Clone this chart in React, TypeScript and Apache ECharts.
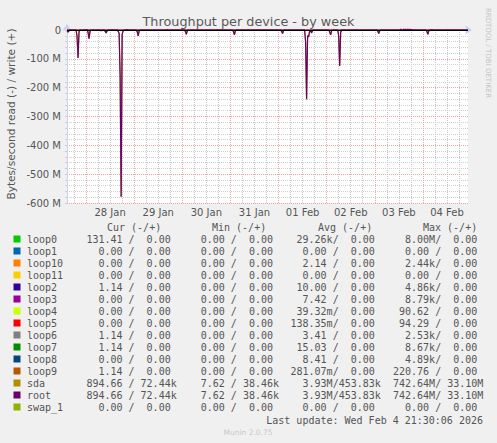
import React, { useEffect, useRef } from 'react';
import * as echarts from 'echarts';

// 401 half-hour slots; slot 0 = Jan 27 14:30
const SLOT_COUNT = 401;
const NOON_OFFSET = 43; // slot of 28 Jan 12:00
const MIDNIGHT_OFFSET = 19; // slot of 28 Jan 00:00
const DAY_LABELS = ['28 Jan', '29 Jan', '30 Jan', '31 Jan', '01 Feb', '02 Feb', '03 Feb', '04 Feb'];

// read throughput (MB/s, plotted negative) at given slots
const READ_SPIKES: [number, number][] = [
  [0, -4], [1, -7], [2, -3], [5, -2], [10, -20], [11, -97], [12, -6], [15, -2],
  [21, -8], [22, -30], [23, -4], [28, -2], [34, -3], [38, -4], [39, -10], [40, -3],
  [46, -2], [51, -4], [52, -12], [53, -160], [54, -578], [55, -15], [56, -3], [62, -2],
  [70, -6], [71, -20], [72, -3], [85, -2], [100, -2], [118, -4], [119, -15], [120, -2],
  [166, -5], [167, -17], [168, -2], [214, -4], [215, -12], [216, -2],
  [238, -40], [239, -240], [240, -20], [241, -24], [242, -5], [243, -3], [244, -10], [245, -2],
  [262, -6], [263, -17], [264, -2], [271, -20], [272, -125], [273, -8],
  [310, -4], [311, -12], [312, -2], [359, -5], [360, -15], [361, -2],
];
// write throughput (MB/s, positive)
const WRITE_BUMPS: [number, number][] = [
  [3, 1], [20, 1.5], [45, 1], [60, 1.5], [100, 2], [150, 1], [180, 1],
  [333, 2.5], [336, 3], [338, 3], [340, 2.5], [342, 3], [344, 2], [364, 1.5], [380, 1],
];

const NAMES = ['loop0', 'loop1', 'loop10', 'loop11', 'loop2', 'loop3', 'loop4', 'loop5', 'loop6', 'loop7', 'loop8', 'loop9', 'sda', 'root', 'swap_1'];
const COLORS = ['#00CC00', '#0066B3', '#FF8000', '#FFCC00', '#330099', '#990099', '#CCFF00', '#FF0000', '#808080', '#008F00', '#00487D', '#B35A00', '#B38F00', '#6B006B', '#8FB300'];
const CUR_R = ['131.41', '0.00', '0.00', '0.00', '1.14', '0.00', '0.00', '0.00', '1.14', '1.14', '0.00', '1.14', '894.66', '894.66', '0.00'];
const CUR_W = ['0.00', '0.00', '0.00', '0.00', '0.00', '0.00', '0.00', '0.00', '0.00', '0.00', '0.00', '0.00', '72.44k', '72.44k', '0.00'];
const MIN_R = ['0.00', '0.00', '0.00', '0.00', '0.00', '0.00', '0.00', '0.00', '0.00', '0.00', '0.00', '0.00', '7.62', '7.62', '0.00'];
const MIN_W = ['0.00', '0.00', '0.00', '0.00', '0.00', '0.00', '0.00', '0.00', '0.00', '0.00', '0.00', '0.00', '38.46k', '38.46k', '0.00'];
const AVG_R = ['29.26k', '0.00', '2.14', '0.00', '10.00', '7.42', '39.32m', '138.35m', '3.41', '15.03', '8.41', '281.07m', '3.93M', '3.93M', '0.00'];
const AVG_W = ['0.00', '0.00', '0.00', '0.00', '0.00', '0.00', '0.00', '0.00', '0.00', '0.00', '0.00', '0.00', '453.83k', '453.83k', '0.00'];
const MAX_R = ['8.00M', '0.00', '2.44k', '0.00', '4.86k', '8.79k', '90.62', '94.29', '2.53k', '8.67k', '4.89k', '220.76', '742.64M', '742.64M', '0.00'];
const MAX_W = ['0.00', '0.00', '0.00', '0.00', '0.00', '0.00', '0.00', '0.00', '0.00', '0.00', '0.00', '0.00', '33.10M', '33.10M', '0.00'];
const HEADERS = ['Cur (-/+)', 'Min (-/+)', 'Avg (-/+)', 'Max (-/+)'];
const Y_TICKS_M = [0, -100, -200, -300, -400, -500, -600];

const MONO = "'DejaVu Sans Mono', monospace";
const SANS = "'DejaVu Sans', sans-serif";
const TXT = '#555555';
const CW = 6.02;

function buildOption() {
  const slots = Array.from({ length: SLOT_COUNT }, (_, i) => String(i));
  const read = new Array(SLOT_COUNT).fill(0);
  READ_SPIKES.forEach(([s, v]) => { read[s] = v * 1e6; });
  const write = new Array(SLOT_COUNT).fill(0);
  WRITE_BUMPS.forEach(([s, v]) => { write[s] = v * 1e6; });

  const graphics: any[] = [];
  const rowY = (i: number) => 239 + 12 * i;
  const colStart = [86.4, 188.7, 290.5, 393];
  const headerX = [107, 212, 318, 423];
  HEADERS.forEach((h, c) => {
    graphics.push({ type: 'text', x: headerX[c], y: 227, style: { text: h, font: `10px ${MONO}`, fill: TXT, textAlign: 'left', textVerticalAlign: 'middle' } });
  });
  const hasSuf = (s: string) => /[a-zA-Z]$/.test(s);
  const cols = [[CUR_R, CUR_W], [MIN_R, MIN_W], [AVG_R, AVG_W], [MAX_R, MAX_W]];
  NAMES.forEach((n, i) => {
    const y = rowY(i);
    graphics.push({ type: 'rect', shape: { x: 13.5, y: y - 3.5, width: 7, height: 7 }, style: { fill: COLORS[i] } });
    graphics.push({ type: 'text', x: 27, y, style: { text: n, font: `10px ${MONO}`, fill: TXT, textAlign: 'left', textVerticalAlign: 'middle' } });
    cols.forEach(([r, w], c) => {
      const S = colStart[c];
      const rs = r[i], ws = w[i];
      graphics.push({ type: 'text', x: S + (hasSuf(rs) ? 7 : 6) * CW, y, style: { text: rs, font: `10px ${MONO}`, fill: TXT, textAlign: 'right', textVerticalAlign: 'middle' } });
      graphics.push({ type: 'text', x: S + 7 * CW, y, style: { text: '/', font: `10px ${MONO}`, fill: TXT, textAlign: 'left', textVerticalAlign: 'middle' } });
      graphics.push({ type: 'text', x: S + (hasSuf(ws) ? 15 : 14) * CW, y, style: { text: ws, font: `10px ${MONO}`, fill: TXT, textAlign: 'right', textVerticalAlign: 'middle' } });
    });
  });
  graphics.push({ type: 'text', x: 483 - 16 * CW, y: 420, style: { text: 'Last update: Wed Feb', font: `10px ${MONO}`, fill: TXT, textAlign: 'right', textVerticalAlign: 'middle' } });
  graphics.push({ type: 'text', x: 483, y: 420, style: { text: '4 21:30:06 2026', font: `10px ${MONO}`, fill: TXT, textAlign: 'right', textVerticalAlign: 'middle' } });
  graphics.push({ type: 'text', x: 248, y: 432, style: { text: 'Munin 2.0.75', font: `7.5px ${SANS}`, fill: '#c8c8c8', textAlign: 'center', textVerticalAlign: 'middle' } });
  graphics.push({ type: 'text', x: 11, y: 114, rotation: Math.PI / 2, style: { text: 'Bytes/second read (-) / write (+)', font: `10.6px ${SANS}`, fill: TXT, textAlign: 'center', textVerticalAlign: 'middle' } });
  graphics.push({ type: 'text', x: 488, y: 53, rotation: -Math.PI / 2, style: { text: 'RRDTOOL / TOBI OETIKER', font: `7px ${SANS}`, fill: '#c4c4c4', textAlign: 'center', textVerticalAlign: 'middle' } });

  const dotted = (color: string) => ({ color, width: 1, type: [1, 1] as any });

  const lineSeries = (name: string, color: string, data: number[], z: number) => ({
    name, type: 'line', data, xAxisIndex: 0, yAxisIndex: 0, showSymbol: false, symbol: 'none',
    lineStyle: { color, width: 1.2 }, clip: false, z, silent: true,
  });

  return {
    animation: false,
    backgroundColor: '#f0f0f0',
    title: {
      text: 'Throughput per device - by week', left: 'center', top: 10,
      textStyle: { fontFamily: SANS, fontSize: 12.8, fontWeight: 'normal', color: '#5a5a5a' },
    },
    grid: { left: 67, top: 30, width: 401, height: 173, show: true, backgroundColor: '#ffffff', borderWidth: 0 },
    xAxis: [
      {
        type: 'category', data: slots, boundaryGap: false,
        axisLine: { show: true, lineStyle: { color: '#c8d0f4' }, symbol: ['none', 'arrow'], symbolSize: [7, 7], symbolOffset: [0, 4] },
        axisTick: { show: false },
        axisLabel: {
          interval: (idx: number) => idx >= NOON_OFFSET && (idx - NOON_OFFSET) % 48 === 0,
          formatter: (_v: string, idx: number) => DAY_LABELS[(idx - NOON_OFFSET) / 48] ?? '',
          color: TXT, fontSize: 10, fontFamily: SANS, margin: 4,
        },
        splitLine: { show: true, interval: (idx: number) => (idx - MIDNIGHT_OFFSET) % 48 === 0 && idx >= MIDNIGHT_OFFSET, lineStyle: dotted('#efa3a3') },
        z: 3,
      },
      {
        type: 'category', data: slots, boundaryGap: false, position: 'bottom',
        axisLine: { show: false }, axisTick: { show: false }, axisLabel: { show: false },
        splitLine: { show: true, interval: (idx: number) => (idx - 7) % 12 === 0 && (idx - MIDNIGHT_OFFSET) % 48 !== 0, lineStyle: dotted('#c8c8c8') },
        z: 1,
      },
    ],
    yAxis: {
      type: 'value', min: Y_TICKS_M[Y_TICKS_M.length - 1] * 1e6, max: 0, interval: 100e6,
      axisLine: { show: true, lineStyle: { color: '#c8d0f4' }, symbol: ['none', 'arrow'], symbolSize: [7, 7], symbolOffset: [0, 6] },
      axisTick: { show: true, length: 2, lineStyle: { color: '#cfcfcf' } },
      minorTick: { show: true, splitNumber: 5, length: 2, lineStyle: { color: '#cfcfcf' } },
      axisLabel: {
        formatter: (v: number) => (Y_TICKS_M.includes(v / 1e6) ? (v === 0 ? '0' : `${v / 1e6} M`) : ''),
        color: TXT, fontSize: 10, fontFamily: SANS, margin: 6,
      },
      splitLine: { show: true, lineStyle: dotted('#efa3a3') },
      minorSplitLine: { show: true, lineStyle: dotted('#cfcfcf') },
      z: 2,
    },
    series: [
      lineSeries('sda read', '#B38F00', read, 3),
      lineSeries('sda write', '#B38F00', write, 3),
      { ...lineSeries('root read', '#6B006B', read, 4) },
      {
        ...lineSeries('root write', '#6B006B', write, 4),
        markLine: {
          silent: true, symbol: ['none', 'none'], label: { show: false },
          lineStyle: { color: '#000000', width: 1, type: 'solid' },
          data: [{ yAxis: 0 }],
        },
      },
    ],
    graphic: graphics,
  };
}

export default function App() {
  const ref = useRef<HTMLDivElement>(null);
  useEffect(() => {
    const chart = echarts.init(ref.current!, null, { renderer: 'svg' });
    chart.setOption(buildOption() as any);
    return () => chart.dispose();
  }, []);
  return <div ref={ref} style={{ position: 'fixed', left: 0, top: 0, width: 497, height: 443 }} />;
}
